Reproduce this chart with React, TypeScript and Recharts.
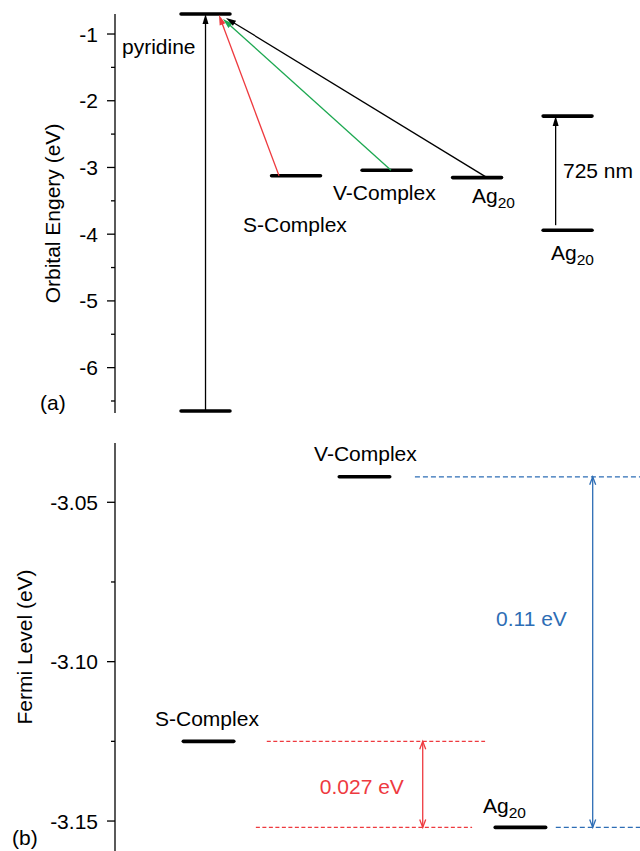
import React from 'react';
import { ComposedChart, XAxis, YAxis, ReferenceLine, ReferenceDot } from 'recharts';

const FONT = '"Liberation Sans", Arial, Helvetica, sans-serif';
const FONT_SIZE = 21;
const RED = '#ee3a3f';
const GREEN = '#1da851';
const BLUE = '#2d6db5';

// ---------- Panel (a): orbital energies (eV) ----------
// each level: column on the x axis and its energy
const levelColumnsA = [1, 1, 2, 3, 4, 5, 5];
const levelEnergiesA = [-0.7, -6.65, -3.125, -3.042, -3.152, -2.23, -3.94];
const majorTicksA = [-6, -5, -4, -3, -2, -1];
const minorTicksA = [-6.5, -5.5, -4.5, -3.5, -2.5, -1.5];

// transitions: start (column, eV) -> end (column, eV)
const transitionStartXA = [1, 1.812, 3.049, 4.11, 4.868];
const transitionStartYA = [-6.65, -3.125, -3.042, -3.152, -3.94];
const transitionEndXA = [1, 1.149, 1.193, 1.226, 4.868];
const transitionEndYA = [-0.7, -0.715, -0.775, -0.76, -2.23];
const transitionColorsA = ['#000', RED, GREEN, '#000', '#000'];

const labelTextsA = ['pyridine', 'S-Complex', 'V-Complex', 'Ag_20', '725 nm', 'Ag_20', '(a)'];
const labelXA = [0.077, 1.414, 2.408, 3.944, 4.949, 4.817, -0.829];
const labelYA = [-1.3, -3.967, -3.488, -3.533, -3.158, -4.387, -6.635];

// ---------- Panel (b): Fermi levels (eV) ----------
const levelColumnsB = [1.8, 4.8, 7.8];
const levelEnergiesB = [-3.125, -3.042, -3.152]; // S-Complex, V-Complex, Ag20
const majorTicksB = [-3.15, -3.1, -3.05];
const minorTicksB = [-3.125, -3.075];

// guide lines: [from, to] along x at a given energy
const guideFromB = [5.77, 8.48, 2.92, 2.71];
const guideToB = [10.1, 10.1, 7.12, 6.87];
const guideEnergyB = [-3.042, -3.152, -3.125, -3.152];
const guideColorsB = [BLUE, BLUE, RED, RED];

// energy gaps: x position, upper and lower energy
const gapXB = [5.92, 9.19];
const gapTopB = [-3.125, -3.042];
const gapBottomB = [-3.152, -3.152];
const gapColorsB = [RED, BLUE];

const labelTextsB = ['V-Complex', 'S-Complex', 'Ag_20', '0.027 eV', '0.11 eV', '(b)'];
const labelXB = [3.83, 0.77, 7.08, 3.94, 7.33, -1.98];
const labelYB = [-3.037, -3.1202, -3.1475, -3.1416, -3.0888, -3.1574];
const labelColorsB = ['#000', '#000', '#000', RED, BLUE, '#000'];

const near = (a: number, b: number) => Math.abs(a - b) < 1e-9;

function AxisTick(props: any) {
  const { x, y, payload, majors, digits } = props;
  const v = payload.value as number;
  const major = majors.some((m: number) => near(m, v));
  return (
    <g>
      <line x1={x - (major ? 8 : 4)} x2={x} y1={y} y2={y} stroke="#000" strokeWidth={1.3} />
      {major && (
        <text x={x - 17} y={y} dy="0.36em" textAnchor="end" fontSize={FONT_SIZE} fontFamily={FONT} fill="#000">
          {v.toFixed(digits)}
        </text>
      )}
    </g>
  );
}

function AxisTitle(props: any) {
  const { viewBox, text, offsetX } = props;
  const cx = offsetX;
  const cy = viewBox.y + viewBox.height / 2;
  return (
    <text
      x={cx}
      y={cy}
      textAnchor="middle"
      transform={`rotate(-90, ${cx}, ${cy})`}
      fontSize={FONT_SIZE}
      fontFamily={FONT}
      fill="#000"
    >
      {text}
    </text>
  );
}

function LabelText({ cx, cy, text, color }: any) {
  const [main, sub] = text.split('_');
  return (
    <text x={cx} y={cy} fontSize={FONT_SIZE} fontFamily={FONT} fill={color}>
      <tspan>{main}</tspan>
      {sub && (
        <tspan fontSize={15.5} dy={5}>
          {sub}
        </tspan>
      )}
    </text>
  );
}

function LevelShape(props: any) {
  return (
    <line
      x1={props.x1}
      y1={props.y1}
      x2={props.x2}
      y2={props.y2}
      stroke="#000"
      strokeWidth={3.6}
      strokeLinecap="round"
    />
  );
}

function ArrowShape(props: any) {
  const { x1, y1, x2, y2, color, startGap = 0 } = props;
  const dx = x2 - x1;
  const dy = y2 - y1;
  const len = Math.hypot(dx, dy) || 1;
  const ux = dx / len;
  const uy = dy / len;
  const nx = -uy;
  const ny = ux;
  const L = 10;
  const hw = 3;
  const bx = x2 - ux * L;
  const by = y2 - uy * L;
  return (
    <g>
      <line x1={x1 + ux * startGap} y1={y1 + uy * startGap} x2={bx + ux} y2={by + uy} stroke={color} strokeWidth={1.3} />
      <polygon points={`${x2},${y2} ${bx + nx * hw},${by + ny * hw} ${bx - nx * hw},${by - ny * hw}`} fill={color} />
    </g>
  );
}

function DoubleArrowShape(props: any) {
  const { x1, y1, x2, y2, color } = props;
  const L = 8;
  const hw = 3;
  const top = Math.min(y1, y2);
  const bot = Math.max(y1, y2);
  return (
    <g fill="none" stroke={color} strokeWidth={1.3}>
      <line x1={x1} y1={top} x2={x2} y2={bot} />
      <polyline points={`${x1 - hw},${top + L} ${x1},${top} ${x1 + hw},${top + L}`} />
      <polyline points={`${x1 - hw},${bot - L} ${x1},${bot} ${x1 + hw},${bot - L}`} />
    </g>
  );
}

function DashShape(props: any) {
  const { x1, y1, x2, y2, color } = props;
  const blue = color === BLUE;
  return (
    <line
      x1={x1}
      y1={y1}
      x2={x2}
      y2={y2}
      stroke={color}
      strokeWidth={1.2}
      strokeDasharray={blue ? '5 3' : '4 2.5'}
    />
  );
}

function PanelA() {
  const halfWidth = 0.27;
  return (
    <ComposedChart width={640} height={430} margin={{ top: 14, right: 0, bottom: 17, left: 0 }}>
      <XAxis type="number" dataKey="x" domain={[0, 5.8]} allowDataOverflow hide />
      <YAxis
        type="number"
        domain={[-6.68, -0.7]}
        allowDataOverflow
        width={115}
        ticks={[...minorTicksA, ...majorTicksA].sort((a, b) => a - b)}
        interval={0}
        tickSize={0}
        tickMargin={0}
        tickLine={false}
        axisLine={{ stroke: '#000', strokeWidth: 1.3 }}
        tick={(p: any) => <AxisTick {...p} majors={majorTicksA} digits={0} />}
        label={{ content: (p: any) => <AxisTitle {...p} text="Orbital Engery (eV)" offsetX={60} /> }}
      />
      {levelEnergiesA.map((e, i) => (
        <ReferenceLine
          key={`la${i}`}
          segment={[
            { x: levelColumnsA[i] - halfWidth, y: e },
            { x: levelColumnsA[i] + halfWidth, y: e },
          ]}
          ifOverflow="visible"
          shape={(p: any) => <LevelShape {...p} />}
        />
      ))}
      {transitionStartXA.map((sx, i) => (
        <ReferenceLine
          key={`ta${i}`}
          segment={[
            { x: sx, y: transitionStartYA[i] },
            { x: transitionEndXA[i], y: transitionEndYA[i] },
          ]}
          ifOverflow="visible"
          shape={(p: any) => (
            <ArrowShape {...p} color={transitionColorsA[i]} startGap={i === 4 ? 5 : 0} />
          )}
        />
      ))}
      {labelTextsA.map((t, i) => (
        <ReferenceDot
          key={`ta-l${i}`}
          x={labelXA[i]}
          y={labelYA[i]}
          r={0}
          ifOverflow="visible"
          shape={(p: any) => <LabelText cx={p.cx} cy={p.cy} text={t} color="#000" />}
        />
      ))}
    </ComposedChart>
  );
}

function PanelB() {
  const halfWidth = 0.485;
  return (
    <ComposedChart width={640} height={421} margin={{ top: 13, right: 0, bottom: 0, left: 0 }}>
      <XAxis type="number" dataKey="x" domain={[0, 10.1]} allowDataOverflow hide />
      <YAxis
        type="number"
        domain={[-3.1594, -3.0314]}
        allowDataOverflow
        width={115}
        ticks={[...minorTicksB, ...majorTicksB].sort((a, b) => a - b)}
        interval={0}
        tickSize={0}
        tickMargin={0}
        tickLine={false}
        axisLine={{ stroke: '#000', strokeWidth: 1.3 }}
        tick={(p: any) => <AxisTick {...p} majors={majorTicksB} digits={2} />}
        label={{ content: (p: any) => <AxisTitle {...p} text="Fermi Level (eV)" offsetX={32} /> }}
      />
      {guideFromB.map((f, i) => (
        <ReferenceLine
          key={`gb${i}`}
          segment={[
            { x: f, y: guideEnergyB[i] },
            { x: guideToB[i], y: guideEnergyB[i] },
          ]}
          ifOverflow="visible"
          shape={(p: any) => <DashShape {...p} color={guideColorsB[i]} />}
        />
      ))}
      {levelEnergiesB.map((e, i) => (
        <ReferenceLine
          key={`lb${i}`}
          segment={[
            { x: levelColumnsB[i] - halfWidth, y: e },
            { x: levelColumnsB[i] + halfWidth, y: e },
          ]}
          ifOverflow="visible"
          shape={(p: any) => <LevelShape {...p} />}
        />
      ))}
      {gapXB.map((gx, i) => (
        <ReferenceLine
          key={`db${i}`}
          segment={[
            { x: gx, y: gapTopB[i] },
            { x: gx, y: gapBottomB[i] },
          ]}
          ifOverflow="visible"
          shape={(p: any) => <DoubleArrowShape {...p} color={gapColorsB[i]} />}
        />
      ))}
      {labelTextsB.map((t, i) => (
        <ReferenceDot
          key={`tb-l${i}`}
          x={labelXB[i]}
          y={labelYB[i]}
          r={0}
          ifOverflow="visible"
          shape={(p: any) => <LabelText cx={p.cx} cy={p.cy} text={t} color={labelColorsB[i]} />}
        />
      ))}
    </ComposedChart>
  );
}

export default function App() {
  return (
    <div style={{ position: 'absolute', left: 0, top: 0, width: 640, height: 851, background: '#fff' }}>
      <div style={{ position: 'absolute', left: 0, top: 0 }}>
        <PanelA />
      </div>
      <div style={{ position: 'absolute', left: 0, top: 430 }}>
        <PanelB />
      </div>
    </div>
  );
}
